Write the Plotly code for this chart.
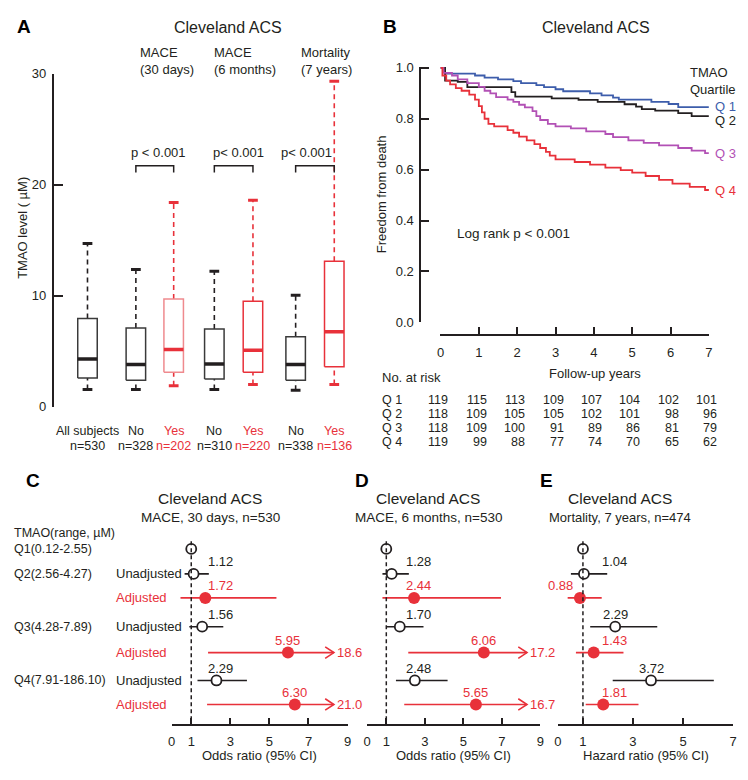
import plotly.graph_objects as go

# the page body keeps an 8px margin, so a 732x764 figure fills the 748x780 window exactly;
# positions below are given in reference-picture pixels and scaled onto the figure
W, H = 732, 764
REF_W, REF_H = 748, 780
FONT = "Liberation Sans, Arial, Helvetica, sans-serif"
INK = "#231f20"
RED = "#e8313a"
PINK = "#ef8a8e"
BLUE = "#3d5dab"
PURPLE = "#b251b5"

# ---------------- panel A: TMAO by outcome ----------------
groups = ["All subjects", "No", "Yes", "No", "Yes", "No", "Yes"]
group_n = ["n=530", "n=328", "n=202", "n=310", "n=220", "n=338", "n=136"]
is_event = [False, False, True, False, True, False, True]
tmao_low = [1.55, 1.55, 1.9, 1.55, 2.0, 1.5, 2.0]
tmao_q1 = [2.6, 2.4, 3.1, 2.5, 3.1, 2.4, 3.6]
tmao_med = [4.3, 3.8, 5.15, 3.85, 5.1, 3.8, 6.75]
tmao_q3 = [7.95, 7.1, 9.7, 7.0, 9.5, 6.3, 13.1]
tmao_high = [14.7, 12.35, 18.4, 12.2, 18.6, 10.05, 29.3]
outcomes = ["MACE<br>(30 days)", "MACE<br>(6 months)", "Mortality<br>(7 years)"]
p_labels = ["p < 0.001", "p< 0.001", "p< 0.001"]

# ---------------- panel B: Kaplan-Meier by quartile ----------------
quartiles = ["Q 1", "Q 2", "Q 3", "Q 4"]
km_t = [
    [0, 0.12, 0.9, 1.15, 1.5, 1.9, 2.1, 2.5, 2.7, 3.0, 3.2, 3.9, 4.2, 4.5, 4.65, 5.5, 5.95, 6.2, 7.0],
    [0, 0.12, 0.45, 0.7, 1.85, 1.95, 2.9, 3.6, 4.1, 4.8, 5.1, 5.25, 5.6, 6.2, 6.55, 7.0],
    [0, 0.08, 0.3, 0.45, 0.7, 1.0, 1.15, 1.3, 1.45, 1.75, 1.9, 2.05, 2.2, 2.4, 2.5, 2.6, 2.8, 3.0,
     3.4, 3.8, 4.3, 4.5, 4.9, 5.3, 5.7, 6.2, 6.55, 6.9, 7.0],
    [0, 0.05, 0.15, 0.25, 0.4, 0.55, 0.75, 0.9, 1.0, 1.08, 1.15, 1.25, 1.4, 1.75, 1.9, 2.05, 2.25,
     2.45, 2.6, 2.75, 2.85, 3.0, 3.5, 3.9, 4.3, 4.7, 5.0, 5.35, 5.7, 6.05, 6.5, 6.9, 7.0],
]
km_s = [
    [1.0, 0.977, 0.97, 0.962, 0.955, 0.948, 0.94, 0.932, 0.924, 0.916, 0.908, 0.9, 0.892, 0.883,
     0.875, 0.866, 0.858, 0.846, 0.846],
    [1.0, 0.95, 0.945, 0.924, 0.905, 0.887, 0.88, 0.874, 0.866, 0.857, 0.848, 0.838, 0.832, 0.822,
     0.81, 0.81],
    [1.0, 0.98, 0.97, 0.955, 0.94, 0.925, 0.91, 0.9, 0.885, 0.875, 0.866, 0.855, 0.845, 0.83, 0.81,
     0.795, 0.78, 0.77, 0.762, 0.75, 0.74, 0.728, 0.715, 0.705, 0.695, 0.685, 0.675, 0.665, 0.665],
    [1.0, 0.97, 0.95, 0.935, 0.92, 0.91, 0.895, 0.875, 0.85, 0.825, 0.8, 0.78, 0.77, 0.755, 0.745,
     0.73, 0.715, 0.7, 0.685, 0.67, 0.655, 0.64, 0.63, 0.62, 0.608, 0.598, 0.588, 0.575, 0.56,
     0.545, 0.532, 0.52, 0.518],
]
km_colors = [BLUE, INK, PURPLE, RED]
years = [0, 1, 2, 3, 4, 5, 6, 7]
at_risk = [
    [119, 115, 113, 109, 107, 104, 102, 101],
    [118, 109, 105, 105, 102, 101, 98, 96],
    [118, 109, 100, 91, 89, 86, 81, 79],
    [119, 99, 88, 77, 74, 70, 65, 62],
]

# ---------------- panels C-E: forest plots ----------------
quart_ranges = ["Q1(0.12-2.55)", "Q2(2.56-4.27)", "Q3(4.28-7.89)", "Q4(7.91-186.10)"]
forest_titles = ["MACE, 30 days, n=530", "MACE, 6 months, n=530", "Mortality, 7 years, n=474"]
forest_xlabels = ["Odds ratio (95% CI)", "Odds ratio (95% CI)", "Hazard ratio (95% CI)"]
unadj_est = [[1.12, 1.56, 2.29], [1.28, 1.70, 2.48], [1.04, 2.29, 3.72]]
unadj_lo = [[0.66, 0.90, 1.32], [0.80, 1.00, 1.50], [0.52, 1.29, 2.19]]
unadj_hi = [[1.90, 2.64, 3.85], [2.17, 2.93, 4.18], [1.97, 3.97, 6.23]]
adj_est = [[1.72, 5.95, 6.30], [2.44, 6.06, 5.65], [0.88, 1.43, 1.81]]
adj_lo = [[0.45, 1.86, 1.81], [0.80, 2.14, 1.93], [0.39, 0.72, 1.11]]
adj_hi = [[5.36, 18.6, 21.0], [6.95, 17.2, 16.7], [1.75, 2.62, 3.22]]


def px(x):
    return x / REF_W


def py(y):
    return 1 - y / REF_H


fig = go.Figure()
ann = []
shapes = []


def text(x, y, s, size=13, color=INK, xanchor="center", yanchor="middle", xref="paper",
         yref="paper", **kw):
    ann.append(dict(x=x, y=y, text=s, xref=xref, yref=yref, showarrow=False, xanchor=xanchor,
                    yanchor=yanchor, font=dict(family=FONT, size=size, color=color), **kw))


def line(x, y, color, width=1.5, dash="solid", xa="x", ya="y", shape="linear"):
    fig.add_trace(go.Scatter(x=x, y=y, mode="lines", xaxis=xa, yaxis=ya, hoverinfo="skip",
                             line=dict(color=color, width=width, dash=dash, shape=shape),
                             showlegend=False))


# ---- panel A drawing
box_x = [0, 1.19, 2.12, 3.12, 4.07, 5.12, 6.07]
half = 0.24
cap = 0.12
for i in range(len(groups)):
    c = RED if is_event[i] else INK
    edge = PINK if i == 2 else (RED if is_event[i] else "#3a3a3a")
    x0, x1 = box_x[i] - half, box_x[i] + half
    line([box_x[i], box_x[i]], [tmao_q3[i], tmao_high[i]], c, 1.6, "5px,4px")
    line([box_x[i], box_x[i]], [tmao_low[i], tmao_q1[i]], c, 1.6, "5px,4px")
    line([box_x[i] - cap, box_x[i] + cap], [tmao_high[i]] * 2, c, 3)
    line([box_x[i] - cap, box_x[i] + cap], [tmao_low[i]] * 2, c, 3)
    line([x0, x1, x1, x0, x0], [tmao_q1[i], tmao_q1[i], tmao_q3[i], tmao_q3[i], tmao_q1[i]], edge, 1.5)
    line([x0, x1], [tmao_med[i]] * 2, c, 3.5)
    text(box_x[i], py(433), groups[i], color=c, size=12.5, xref="x")
    text(box_x[i], py(449), group_n[i], color=c, size=12.5, xref="x")

outcome_left = [130, 207, 296]
p_shift = [4, 5, -8]
for k in range(3):
    a, b = box_x[2 * k + 1], box_x[2 * k + 2]
    line([a, a, b, b], [21.1, 21.7, 21.7, 21.1], INK, 1.5)
    text((a + b) / 2, py(143), p_labels[k], xref="x", xshift=p_shift[k])
    text(px(outcome_left[k]), py(48), outcomes[k], xanchor="left", align="left")

text(px(223), py(13), "Cleveland ACS", size=16)
text(px(12), py(12), "<b>A</b>", size=19, color="black")
text(px(10), py(222), "TMAO level ( µM)", textangle=-90)

# ---- panel B drawing
q_shift = [1, -4, 0, 0]
for q in range(4):
    line(km_t[q], km_s[q], km_colors[q], 1.8, xa="x2", ya="y2", shape="hv")
    text(km_t[q][-1], km_s[q][-1], quartiles[q], color=km_colors[q], xref="x2", yref="y2",
         xanchor="left", xshift=4, yshift=q_shift[q])
    text(px(380), py(401 + 14.5 * q), quartiles[q], size=12.5, xanchor="left")
    for j, yr in enumerate(years):
        text(yr, py(401 + 14.5 * q), str(at_risk[q][j]), size=12.5, xref="x2",
             xanchor="right", xshift=10)

text(px(698), py(69), "TMAO<br>Quartile", xanchor="left", align="left")
text(px(458), py(228), "Log rank p < 0.001", xanchor="left", size=13.5)
text(px(603), py(13), "Cleveland ACS", size=16)
text(px(391), py(12), "<b>B</b>", size=19, color="black")
text(px(382), py(187), "Freedom from death", textangle=-90)
text(px(602), py(373), "Follow-up years")
text(px(380), py(378), "No. at risk", xanchor="left")

# ---- panels C-E drawing
row_y = [0, 0.963, 1.889, 3.0, 4.0, 5.074, 6.0]
arrow_cap = 8.3
label_min = [2.5, 2.65, 2.27]
px_per_unit = [20.2, 19.9, 25.85]
panel_center = [205, 430, 628]
panel_letter = [(12, "C"), (362, "D"), (552, "E")]
for p in range(3):
    xa, ya = "x%d" % (p + 3), "y%d" % (p + 3)
    shapes.append(dict(type="line", xref=xa, yref="paper", x0=1, x1=1, y0=py(548), y1=py(739),
                       line=dict(color=INK, width=1.5, dash="4px,3px")))
    ux, uy, ax_, ay_ = [1.0], [row_y[0]], [], []
    for q in range(3):
        r_u, r_a = row_y[1 + 2 * q], row_y[2 + 2 * q]
        line([unadj_lo[p][q], unadj_hi[p][q]], [r_u, r_u], INK, 1.6, xa=xa, ya=ya)
        hi = min(adj_hi[p][q], arrow_cap)
        line([adj_lo[p][q], hi], [r_a, r_a], RED, 1.6, xa=xa, ya=ya)
        if adj_hi[p][q] > arrow_cap:
            dx = 9 / px_per_unit[p]
            line([hi - dx, hi, hi - dx], [r_a - 0.22, r_a, r_a + 0.22], RED, 1.6, xa=xa, ya=ya)
            text(hi, r_a, "%.1f" % adj_hi[p][q], color=RED, xref=xa, yref=ya, xanchor="left",
                 xshift=1)
        ux.append(unadj_est[p][q]); uy.append(r_u)
        ax_.append(adj_est[p][q]); ay_.append(r_a)
        text(max(unadj_est[p][q], label_min[p]), r_u, "%.2f" % unadj_est[p][q], xref=xa, yref=ya,
             yshift=12)
        if adj_est[p][q] < 1:
            text(adj_est[p][q], r_a, "%.2f" % adj_est[p][q], color=RED, xref=xa, yref=ya,
                 xanchor="right", xshift=-5, yshift=12)
        else:
            text(max(adj_est[p][q], label_min[p]), r_a, "%.2f" % adj_est[p][q], color=RED,
                 xref=xa, yref=ya, yshift=12)
    fig.add_trace(go.Scatter(x=ux, y=uy, mode="markers", xaxis=xa, yaxis=ya, showlegend=False,
                             marker=dict(symbol="circle", size=10, color="white",
                                         line=dict(color=INK, width=1.8))))
    fig.add_trace(go.Scatter(x=ax_, y=ay_, mode="markers", xaxis=xa, yaxis=ya, showlegend=False,
                             marker=dict(symbol="circle", size=12, color=RED,
                                         line=dict(color=RED, width=0))))
    text(px(panel_center[p]), py(504), "Cleveland ACS", size=15.5)
    text(px(panel_center[p]), py(523), forest_titles[p], size=13.5 if p < 2 else 13)
    text(px(panel_letter[p][0]), py(485), "<b>%s</b>" % panel_letter[p][1], size=19,
         color="black", xanchor="left" if p == 0 else "center")

text(0, py(539), "TMAO(range, µM)", xanchor="left", size=12.5)
for q in range(4):
    yq = row_y[0] if q == 0 else row_y[2 * q - 1]
    text(0, yq, quart_ranges[q], xanchor="left", yref="y3", size=12.5)
    if q > 0:
        text(px(105), row_y[2 * q - 1], "Unadjusted", xanchor="left", yref="y3")
        text(px(105), row_y[2 * q], "Adjusted", xanchor="left", yref="y3", color=RED)

forest_dom = [(165, 346.7), (366.8, 546), (564, 745)]
forest_rng = [9, 9, 7]
forest_ticks = [[0, 1, 3, 5, 7, 9], [0, 1, 3, 5, 7, 9], [0, 1, 3, 5, 7]]

axis_common = dict(showline=True, linecolor=INK, linewidth=1.5, ticks="inside", tickwidth=1.5,
                   tickcolor=INK, showgrid=False, zeroline=False,
                   tickfont=dict(family=FONT, size=13, color=INK))

layout = dict(
    width=W, height=H, margin=dict(l=0, r=0, t=0, b=0), paper_bgcolor="white",
    plot_bgcolor="rgba(0,0,0,0)", showlegend=False,
    xaxis=dict(domain=[px(43), px(360)], range=[-0.833, 6.714], visible=False),
    yaxis=dict(domain=[py(408), py(61)], range=[0, 30], tickvals=[0, 10, 20, 30], ticklen=10,
               anchor="x", ticklabelstandoff=3, **axis_common),
    xaxis2=dict(domain=[px(442.7), px(720)], range=[0, 7], tickvals=years, ticklen=7,
                anchor="free", position=py(333), ticklabelstandoff=6, **axis_common),
    yaxis2=dict(domain=[py(320), py(54)], range=[0, 1.004], tickvals=[0, 0.2, 0.4, 0.6, 0.8, 1.0],
                tickformat=".1f", ticklen=8, anchor="free", position=px(421.7),
                ticklabelstandoff=3, **axis_common),
)
for p in range(3):
    n = p + 3
    layout["xaxis%d" % n] = dict(domain=[px(forest_dom[p][0]), px(forest_dom[p][1])],
                                 range=[0, forest_rng[p]], tickvals=forest_ticks[p], ticklen=6,
                                 anchor="free", position=py(739), ticklabelstandoff=5,
                                 **axis_common)
    layout["yaxis%d" % n] = dict(domain=[py(739), py(540)], range=[6.778, -0.593],
                                 visible=False, anchor="x%d" % n)
    text(px((forest_dom[p][0] + forest_dom[p][1]) / 2), py(771), forest_xlabels[p])

fig.update_layout(**layout)
fig.update_layout(annotations=ann, shapes=shapes)
fig.write_html("out.html")
